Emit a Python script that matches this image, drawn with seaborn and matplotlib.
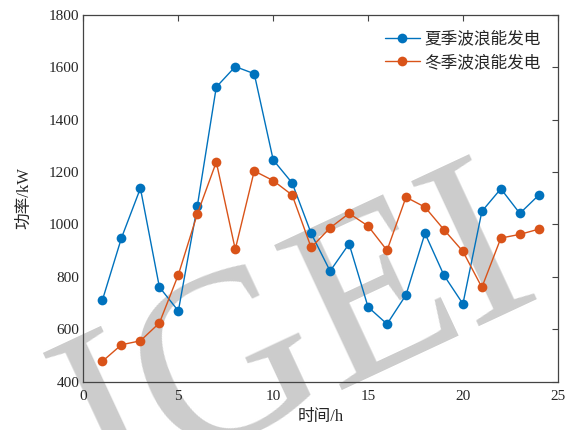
import matplotlib
matplotlib.use("Agg")
import matplotlib.pyplot as plt
import seaborn as sns
import pandas as pd

# Hourly wave power output (kW)
hours = list(range(1, 25))
summer_kw = [712, 948, 1138, 761, 670, 1070, 1524, 1602, 1575, 1246, 1158, 966,
             822, 926, 685, 620, 731, 966, 806, 697, 1050, 1136, 1042, 1112]
winter_kw = [478, 541, 556, 624, 808, 1040, 1238, 905, 1204, 1167, 1112, 912,
             987, 1042, 994, 901, 1104, 1066, 980, 897, 760, 948, 962, 982]
series_names = ["夏季波浪能发电", "冬季波浪能发电"]
series_colors = ["#0072BD", "#D95319"]
x_ticks = [0, 5, 10, 15, 20, 25]
y_ticks = [400, 600, 800, 1000, 1200, 1400, 1600, 1800]

sns.set_theme(style="white")
plt.rcParams["font.family"] = ["Liberation Serif", "Noto Sans CJK SC"]
plt.rcParams["xtick.direction"] = "in"
plt.rcParams["ytick.direction"] = "in"

df = pd.DataFrame({
    "hour": hours * 2,
    "power": summer_kw + winter_kw,
    "season": [series_names[0]] * len(hours) + [series_names[1]] * len(hours),
})

fig = plt.figure(figsize=(5.68, 4.30), dpi=100)
ax = fig.add_axes([0.147, 0.1123, 0.835, 0.8535])
ax.set_axisbelow(False)

sns.lineplot(data=df, x="hour", y="power", hue="season",
             palette=dict(zip(series_names, series_colors)),
             marker="o", markersize=7, markeredgewidth=0, linewidth=1.0,
             ax=ax, zorder=3)

ax.set_xlim(0, 25)
ax.set_ylim(400, 1800)
ax.set_xticks(x_ticks)
ax.set_yticks(y_ticks)
ax.tick_params(axis="both", which="both", labelsize=11, length=4, width=0.8,
               color="#444444", top=True, right=True)
ax.tick_params(axis="x", pad=6)
ax.tick_params(axis="y", pad=3)
for s in ax.spines.values():
    s.set_visible(True)
    s.set_color("#444444")
    s.set_linewidth(0.9)
    s.set_zorder(2.6)

ax.set_xlabel("时间/h", fontsize=12, labelpad=4)
ax.set_ylabel("功率/kW", fontsize=12, labelpad=12)

leg = ax.legend(loc="upper right", frameon=False, fontsize=12,
                handlelength=2.1, handletextpad=0.3, labelspacing=0.45,
                borderaxespad=0.6)

# Gray "IGEI" watermark across the plot
ax.text(0.568, 0.082, "IGEI", transform=fig.transFigure,
        fontsize=176, family="Liberation Serif", color="#CCCCCC",
        rotation=25, rotation_mode="anchor", ha="center", va="baseline",
        clip_on=False, zorder=1)

fig.savefig("out.png", dpi=100)
